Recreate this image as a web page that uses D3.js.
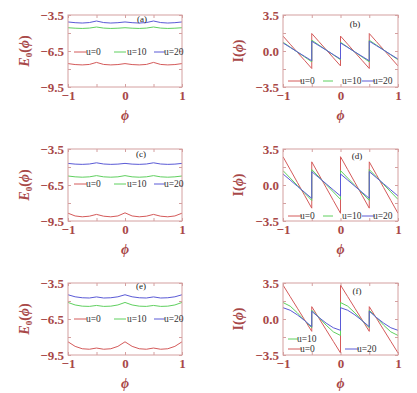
<!DOCTYPE html>
<html><head><meta charset="utf-8">
<script src="https://cdn.jsdelivr.net/npm/d3@7"></script>
<style>body{margin:0;background:#fff}</style></head><body>
<svg id="c" width="417" height="393"></svg>
<script>
// ---- data ----
const phiE = [-1,-0.875,-0.75,-0.625,-0.5,-0.375,-0.25,-0.125,0,0.125,0.25,0.375,0.5,0.625,0.75,0.875,1];
const phiI = [-1,-0.875,-0.75,-0.625,-0.5,-0.5,-0.375,-0.25,-0.125,0,0,0.125,0.25,0.375,0.5,0.5,0.625,0.75,0.875,1];
const uLabels = ["u=0","u=10","u=20"];
const xTicks = [-1,-0.5,0,0.5,1];
const xTickLabels = ["\u22121","0","1"];
const eTicks = [-9.5,-8,-6.5,-5,-3.5];
const eTickLabels = ["\u22129.5","\u22126.5","\u22123.5"];
const iTicks = [-3.5,-1.75,0,1.75,3.5];
const iTickLabels = ["\u22123.5","0.0","3.5"];

// panel (a)
const eA_u0  = [-7.55,-7.63,-7.66,-7.62,-7.45,-7.62,-7.66,-7.63,-7.55,-7.63,-7.66,-7.62,-7.45,-7.62,-7.66,-7.63,-7.55];
const eA_u10 = [-4.56,-4.60,-4.62,-4.59,-4.50,-4.59,-4.62,-4.60,-4.56,-4.60,-4.62,-4.59,-4.50,-4.59,-4.62,-4.60,-4.56];
const eA_u20 = [-4.08,-4.14,-4.17,-4.13,-4.00,-4.13,-4.17,-4.14,-4.08,-4.14,-4.17,-4.13,-4.00,-4.13,-4.17,-4.14,-4.08];
// panel (b)
const iB_u0  = [1.45,0.66,-0.13,-0.91,-1.70, 1.70,0.91,0.13,-0.66,-1.45, 1.45,0.66,-0.13,-0.91,-1.70, 1.70,0.91,0.13,-0.66,-1.45];
const iB_u10 = [0.85,0.375,-0.10,-0.575,-1.05, 1.05,0.575,0.10,-0.375,-0.85, 0.85,0.375,-0.10,-0.575,-1.05, 1.05,0.575,0.10,-0.375,-0.85];
const iB_u20 = [0.78,0.35,-0.09,-0.52,-0.95, 0.95,0.52,0.09,-0.35,-0.78, 0.78,0.35,-0.09,-0.52,-0.95, 0.95,0.52,0.09,-0.35,-0.78];
// panel (c)
const eC_u0  = [-8.85,-9.08,-9.15,-9.10,-8.95,-9.10,-9.15,-9.08,-8.82,-9.08,-9.15,-9.10,-8.95,-9.10,-9.15,-9.08,-8.85];
const eC_u10 = [-5.75,-5.82,-5.85,-5.82,-5.72,-5.82,-5.85,-5.82,-5.72,-5.82,-5.85,-5.82,-5.72,-5.82,-5.85,-5.82,-5.75];
const eC_u20 = [-4.70,-4.76,-4.78,-4.75,-4.65,-4.75,-4.78,-4.76,-4.70,-4.76,-4.78,-4.75,-4.65,-4.75,-4.78,-4.76,-4.70];
// panel (d)
const iD_u0  = [2.75,1.50,0.25,-1.00,-2.25, 2.25,1.00,-0.25,-1.50,-2.75, 2.75,1.50,0.25,-1.00,-2.25, 2.25,1.00,-0.25,-1.50,-2.75];
const iD_u10 = [1.40,0.675,-0.05,-0.775,-1.50, 1.50,0.775,0.05,-0.675,-1.40, 1.40,0.675,-0.05,-0.775,-1.50, 1.50,0.775,0.05,-0.675,-1.40];
const iD_u20 = [1.07,0.48,-0.12,-0.71,-1.30, 1.30,0.71,0.12,-0.48,-1.07, 1.07,0.48,-0.12,-0.71,-1.30, 1.30,0.71,0.12,-0.48,-1.07];
// panel (e)
const eE_u0  = [-8.40,-8.78,-8.98,-9.02,-8.92,-9.02,-8.98,-8.78,-8.40,-8.78,-8.98,-9.02,-8.92,-9.02,-8.98,-8.78,-8.40];
const eE_u10 = [-5.12,-5.33,-5.43,-5.45,-5.37,-5.45,-5.43,-5.33,-5.12,-5.33,-5.43,-5.45,-5.37,-5.45,-5.43,-5.33,-5.12];
const eE_u20 = [-4.48,-4.65,-4.73,-4.75,-4.66,-4.75,-4.73,-4.65,-4.48,-4.65,-4.73,-4.75,-4.66,-4.75,-4.73,-4.65,-4.48];
// panel (f)
const iF_u0  = [3.30,2.175,1.05,-0.075,-1.20, 1.20,0.075,-1.05,-2.175,-3.30, 3.30,2.175,1.05,-0.075,-1.20, 1.20,0.075,-1.05,-2.175,-3.30];
const iF_u10 = [1.60,1.25,0.60,-0.15,-0.85, 0.85,0.15,-0.60,-1.25,-1.60, 1.60,1.25,0.60,-0.15,-0.85, 0.85,0.15,-0.60,-1.25,-1.60];
const iF_u20 = [1.10,0.85,0.40,-0.15,-0.75, 0.75,0.15,-0.40,-0.85,-1.10, 1.10,0.85,0.40,-0.15,-0.75, 0.75,0.15,-0.40,-0.85,-1.10];

// ---- styling / layout ----
const TXT = '#a84848', FRAME = '#d4a0a0';
const COLORS = ['#d45a5a', '#5fd05f', '#5a5ad6'];
const cols = [{x0:68, x1:182}, {x0:283, x1:398}];
const rowsTop = [15, 149, 283];
const H = 72;
const SERIF = '"Liberation Serif","Times New Roman",serif';

// legend entries: [series, line start, line end, text start, y]
const panels = [
  {c:0, r:0, t:'E', lab:'(a)', labPos:[74,4], s:[eA_u0,eA_u10,eA_u20],
   leg:[[0,6,19,18,37],[1,46,58,59,37],[2,86,97,96,37]]},
  {c:1, r:0, t:'I', lab:'(b)', labPos:[72,9], s:[iB_u0,iB_u10,iB_u20],
   leg:[[0,5,19,17,66],[1,40,50,59,66],[2,79,92,90,66]]},
  {c:0, r:1, t:'E', lab:'(c)', labPos:[73,5], s:[eC_u0,eC_u10,eC_u20],
   leg:[[0,6,19,18,35],[1,46,58,59,35],[2,86,97,96,35]]},
  {c:1, r:1, t:'I', lab:'(d)', labPos:[74,7], s:[iD_u0,iD_u10,iD_u20],
   leg:[[0,5,19,17,67],[1,40,50,59,67],[2,79,92,90,67]]},
  {c:0, r:2, t:'E', lab:'(e)', labPos:[73,3], s:[eE_u0,eE_u10,eE_u20],
   leg:[[0,6,19,18,36],[1,46,58,59,36],[2,86,97,96,36]]},
  {c:1, r:2, t:'I', lab:'(f)', labPos:[74,8], s:[iF_u0,iF_u10,iF_u20],
   leg:[[1,5,15,14,56],[0,5,19,17,66],[2,62,76,74,66]]},
];

const svg = d3.select('#c');
const defs = svg.append('defs');

panels.forEach((p, pi) => {
  const x0 = cols[p.c].x0, x1 = cols[p.c].x1;
  const y0 = rowsTop[p.r], y1 = y0 + H;
  const x = d3.scaleLinear().domain([-1, 1]).range([x0, x1]);
  const y = p.t === 'E' ? d3.scaleLinear().domain([-9.5, -3.5]).range([y1, y0])
                        : d3.scaleLinear().domain([-3.5, 3.5]).range([y1, y0]);
  const yT = p.t === 'E' ? eTicks : iTicks;
  const yL = p.t === 'E' ? eTickLabels : iTickLabels;
  const phi = p.t === 'E' ? phiE : phiI;
  const g = svg.append('g');

  defs.append('clipPath').attr('id', 'clip' + pi).append('rect')
    .attr('x', x0).attr('y', y0).attr('width', x1 - x0).attr('height', y1 - y0);

  // lines
  const line = d3.line().x((d, i) => x(phi[i])).y(d => y(d));
  const lg = g.append('g').attr('clip-path', `url(#clip${pi})`);
  p.s.forEach((arr, k) => {
    lg.append('path').datum(arr).attr('d', line).attr('fill', 'none')
      .attr('stroke', COLORS[k]).attr('stroke-width', 1);
  });

  // frame
  g.append('rect').attr('x', x0).attr('y', y0).attr('width', x1 - x0).attr('height', y1 - y0)
    .attr('fill', 'none').attr('stroke', FRAME).attr('stroke-width', 1);

  // inner ticks via axes
  const tl = 3;
  const axB = d3.axisBottom(x).tickValues(xTicks).tickSize(-tl).tickFormat('');
  const axT = d3.axisTop(x).tickValues(xTicks).tickSize(-tl).tickFormat('');
  const axL = d3.axisLeft(y).tickValues(yT).tickSize(-tl).tickFormat('');
  const axR = d3.axisRight(y).tickValues(yT).tickSize(-tl).tickFormat('');
  [[axB, `translate(0,${y1})`], [axT, `translate(0,${y0})`], [axL, `translate(${x0},0)`], [axR, `translate(${x1},0)`]]
    .forEach(([ax, tr]) => {
      const a = g.append('g').attr('transform', tr).call(ax);
      a.select('.domain').remove();
      a.selectAll('line').attr('stroke', FRAME);
    });

  // tick labels
  const xlab = g.append('g').attr('transform', `translate(0,${y1})`)
    .call(d3.axisBottom(x).tickValues([-1, 0, 1]).tickSize(0).tickPadding(4)
      .tickFormat((d, i) => xTickLabels[i]));
  xlab.select('.domain').remove();
  xlab.selectAll('text').attr('fill', TXT).attr('font-family', SERIF)
    .attr('font-weight', 'bold').attr('font-size', 13);

  const ylab = g.append('g').attr('transform', `translate(${x0},0)`)
    .call(d3.axisLeft(y).tickValues([yT[0], yT[2], yT[4]]).tickSize(0).tickPadding(4)
      .tickFormat((d, i) => yL[i]));
  ylab.select('.domain').remove();
  ylab.selectAll('text').attr('fill', TXT).attr('font-family', SERIF)
    .attr('font-weight', 'bold').attr('font-size', 13);

  // axis titles
  g.append('text').attr('x', (x0 + x1) / 2).attr('y', y1 + 33)
    .attr('text-anchor', 'middle').attr('fill', TXT).attr('font-family', SERIF)
    .attr('font-style', 'italic').attr('font-weight', 'bold').attr('font-size', 14).text('\u03d5');

  const yc = (y0 + y1) / 2;
  const tx = p.c === 0 ? x0 - 39 : x0 - 40;
  const yt = g.append('text').attr('transform', `translate(${tx},${yc}) rotate(-90)`)
    .attr('text-anchor', 'middle').attr('fill', TXT).attr('font-family', SERIF)
    .attr('font-weight', 'bold').attr('font-size', 14);
  if (p.t === 'E') {
    yt.append('tspan').attr('font-style', 'italic').text('E');
    yt.append('tspan').attr('font-size', 9).attr('dy', 3).text('0');
    yt.append('tspan').attr('dy', -3).text('(');
    yt.append('tspan').attr('font-style', 'italic').text('\u03d5');
    yt.append('tspan').text(')');
  } else {
    yt.append('tspan').text('I(');
    yt.append('tspan').attr('font-style', 'italic').text('\u03d5');
    yt.append('tspan').text(')');
  }

  // panel label
  g.append('text').attr('x', x0 + p.labPos[0]).attr('y', y0 + p.labPos[1])
    .attr('dominant-baseline', 'central').attr('text-anchor', 'middle')
    .attr('font-family', SERIF).attr('font-size', 9).attr('fill', '#222').text(p.lab);

  // legend
  p.leg.forEach(([k, lx0, lx1, tx0, ly]) => {
    g.append('line').attr('x1', x0 + lx0).attr('x2', x0 + lx1)
      .attr('y1', y0 + ly).attr('y2', y0 + ly)
      .attr('stroke', COLORS[k]).attr('stroke-width', 1);
    g.append('text').attr('x', x0 + tx0).attr('y', y0 + ly)
      .attr('dominant-baseline', 'central').attr('font-family', SERIF)
      .attr('font-size', 9.5).attr('fill', '#333').text(uLabels[k]);
  });
});
</script>
</body></html>
